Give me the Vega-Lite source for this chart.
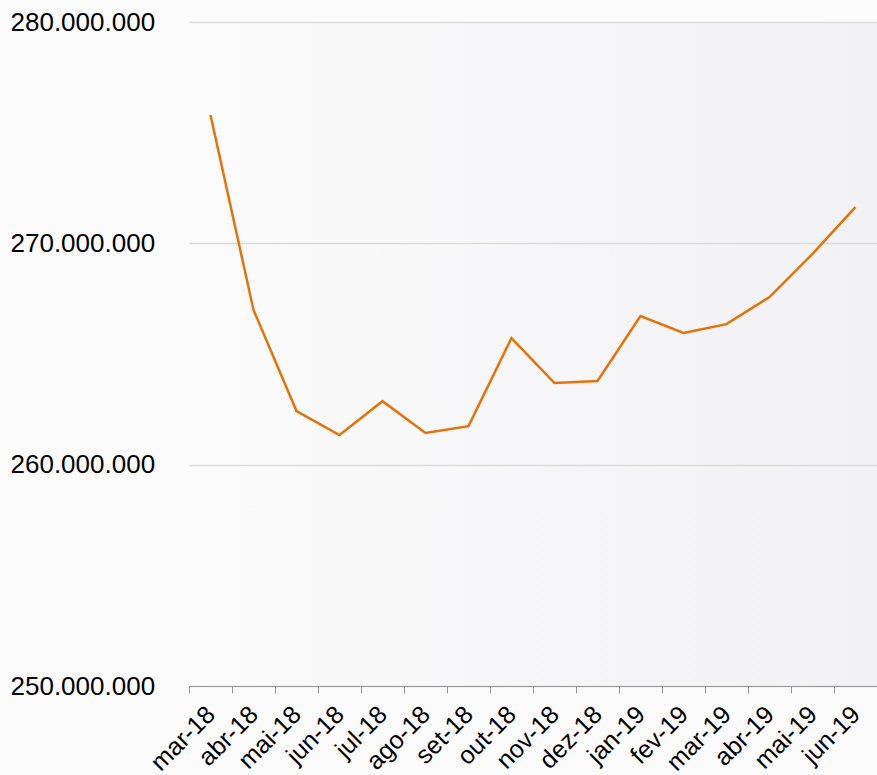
{
  "$schema": "https://vega.github.io/schema/vega-lite/v6.json",
  "autosize": "none",
  "width": 688,
  "height": 664,
  "padding": {"left": 189, "top": 22, "right": 0, "bottom": 89},
  "background": "#fbfbfc",
  "config": {
    "locale": {"number": {"decimal": ",", "thousands": ".", "grouping": [3], "currency": ["R$", ""]}},
    "view": {
      "stroke": null,
      "fill": {"gradient": "linear", "x1": 0, "y1": 0, "x2": 1, "y2": 0, "stops": [{"offset": 0, "color": "#fbfbfc"}, {"offset": 1, "color": "#f2f2f4"}]}
    },
    "font": "Liberation Sans"
  },
  "data": {
    "values": [
      {"mes": "mar-18", "valor": 275800000},
      {"mes": "abr-18", "valor": 266990000},
      {"mes": "mai-18", "valor": 262420000},
      {"mes": "jun-18", "valor": 261340000},
      {"mes": "jul-18", "valor": 262870000},
      {"mes": "ago-18", "valor": 261430000},
      {"mes": "set-18", "valor": 261740000},
      {"mes": "out-18", "valor": 265720000},
      {"mes": "nov-18", "valor": 263690000},
      {"mes": "dez-18", "valor": 263780000},
      {"mes": "jan-19", "valor": 266710000},
      {"mes": "fev-19", "valor": 265950000},
      {"mes": "mar-19", "valor": 266350000},
      {"mes": "abr-19", "valor": 267570000},
      {"mes": "mai-19", "valor": 269520000},
      {"mes": "jun-19", "valor": 271640000}
    ]
  },
  "mark": {"type": "line", "color": "#E8710A", "strokeWidth": 2.5},
  "encoding": {
    "x": {
      "field": "mes",
      "type": "ordinal",
      "sort": null,
      "scale": {"type": "band", "paddingInner": 0, "paddingOuter": 0},
      "axis": {
        "title": null,
        "tickBand": "extent",
        "labelAngle": -45,
        "labelAlign": "right",
        "labelBaseline": "middle",
        "labelFontSize": 25,
        "labelColor": "#000000",
        "labelPadding": 17,
        "domainColor": "#999999",
        "tickColor": "#999999",
        "tickSize": 7,
        "grid": false
      }
    },
    "y": {
      "field": "valor",
      "type": "quantitative",
      "scale": {"domain": [250000000, 280000000], "nice": false, "zero": false},
      "axis": {
        "title": null,
        "values": [250000000, 260000000, 270000000, 280000000],
        "format": ",d",
        "labelAlign": "left",
        "labelPadding": 179,
        "labelFontSize": 26,
        "labelColor": "#000000",
        "labelBaseline": "middle",
        "domain": false,
        "ticks": false,
        "grid": true,
        "gridColor": "#dcdcdc",
        "gridWidth": 1.5
      }
    }
  }
}
